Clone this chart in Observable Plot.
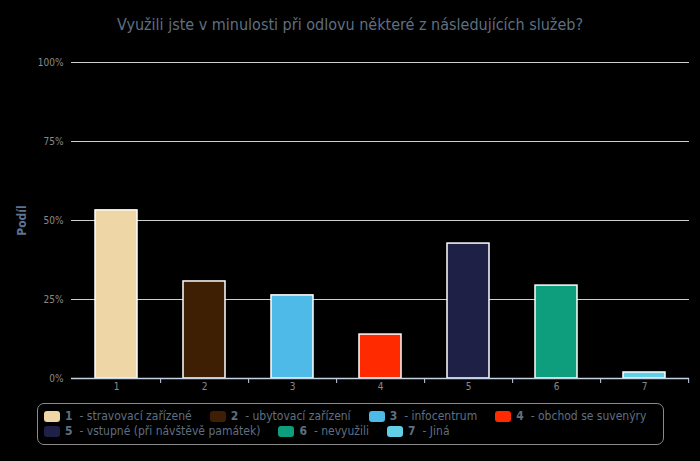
<!DOCTYPE html>
<html>
<head>
<meta charset="utf-8">
<script src="https://cdn.jsdelivr.net/npm/d3@7"></script>
<script src="https://cdn.jsdelivr.net/npm/@observablehq/plot@0.6"></script>
<style>
  html, body { margin: 0; padding: 0; background: #000; }
  body { width: 700px; height: 461px; overflow: hidden; font-family: "DejaVu Sans Condensed", "DejaVu Sans", sans-serif; font-stretch: condensed; }
  #title { box-sizing: border-box; height: 40px; padding-top: 15px; line-height: 20px; text-align: center; font-size: 16px; color: #5f6f80; }
  #chart svg { display: block; }
  #legend { box-sizing: border-box; margin: 3px 0 0 37px; width: 627px; height: 42px; border: 1px solid #8a8a8a; border-radius: 7px; padding: 5px 6px; display: flex; flex-wrap: wrap; column-gap: 18px; font-size: 12px; line-height: 15px; color: #5f6f80; }
  .item { display: flex; align-items: center; white-space: nowrap; }
  .sw { width: 16px; height: 11px; border-radius: 3px; margin-right: 5px; }
  .num { font-weight: bold; margin-right: 7px; }
</style>
</head>
<body>
<div id="title">Využili jste v minulosti při odlovu některé z následujících služeb?</div>
<div id="chart"></div>
<div id="legend"></div>
<script>
const categories = ["1", "2", "3", "4", "5", "6", "7"];
const labels = ["stravovací zařízené", "ubytovací zařízení", "infocentrum", "obchod se suvenýry", "vstupné (při návštěvě památek)", "nevyužili", "Jiná"];
const values = [53.2, 30.7, 26.3, 13.9, 42.7, 29.4, 1.9];
const colors = ["#EED6A6", "#3E1F03", "#4DBAE8", "#FF2A00", "#1F2045", "#0E9E7D", "#62CFE6"];
const yTicks = [0, 25, 50, 75, 100];

const data = categories.map((c, i) => ({cat: c, value: values[i], color: colors[i], label: labels[i]}));

const W = 700, H = 360, ML = 71, MR = 11;
const step = (W - ML - MR) / categories.length;

const chart = Plot.plot({
  width: W,
  height: H,
  marginTop: 22,
  marginBottom: 22,
  marginLeft: ML,
  marginRight: MR,
  style: {background: "transparent", color: "#8a8a8a", fontFamily: "DejaVu Sans, sans-serif", fontSize: "10px"},
  x: {domain: categories, padding: 0},
  y: {domain: [0, 100]},
  color: {domain: categories, range: colors},
  marks: [
    Plot.gridY(yTicks.filter(d => d > 0), {stroke: "#cfcfcf", strokeOpacity: 1, strokeWidth: 1}),
    Plot.barY(data, {x: "cat", y: "value", fill: "cat", stroke: "#ffffff", strokeWidth: 1.5, insetLeft: 23, insetRight: 23}),
    Plot.ruleY([0], {stroke: "#c5d3e3", strokeWidth: 1.5}),
    Plot.axisY({ticks: yTicks, tickFormat: d => d + "%", tickSize: 0, tickPadding: 8, fill: "#8a8a8a",
      label: "Podíl", labelAnchor: "center", labelArrow: "none", labelOffset: 54}),
    Plot.axisX({tickSize: 0, tickPadding: 4, fill: "#8a8a8a", label: null}),
    Plot.axisX({tickSize: 5, tickFormat: () => "", stroke: "#c5d3e3", dx: step / 2, label: null})
  ]
});

// style the y-axis label
chart.querySelectorAll("[aria-label='y-axis label'] text, [aria-label='y-axis label']").forEach(el => {
  el.setAttribute("fill", "#5b7594");
  el.style.fontWeight = "bold";
  el.style.fontSize = "12px";
});
document.getElementById("chart").appendChild(chart);

const legend = document.getElementById("legend");
data.forEach(d => {
  const item = document.createElement("div");
  item.className = "item";
  item.innerHTML = `<span class="sw" style="background:${d.color}"></span><span class="num">${d.cat}</span><span>- ${d.label}</span>`;
  legend.appendChild(item);
});
</script>
</body>
</html>
